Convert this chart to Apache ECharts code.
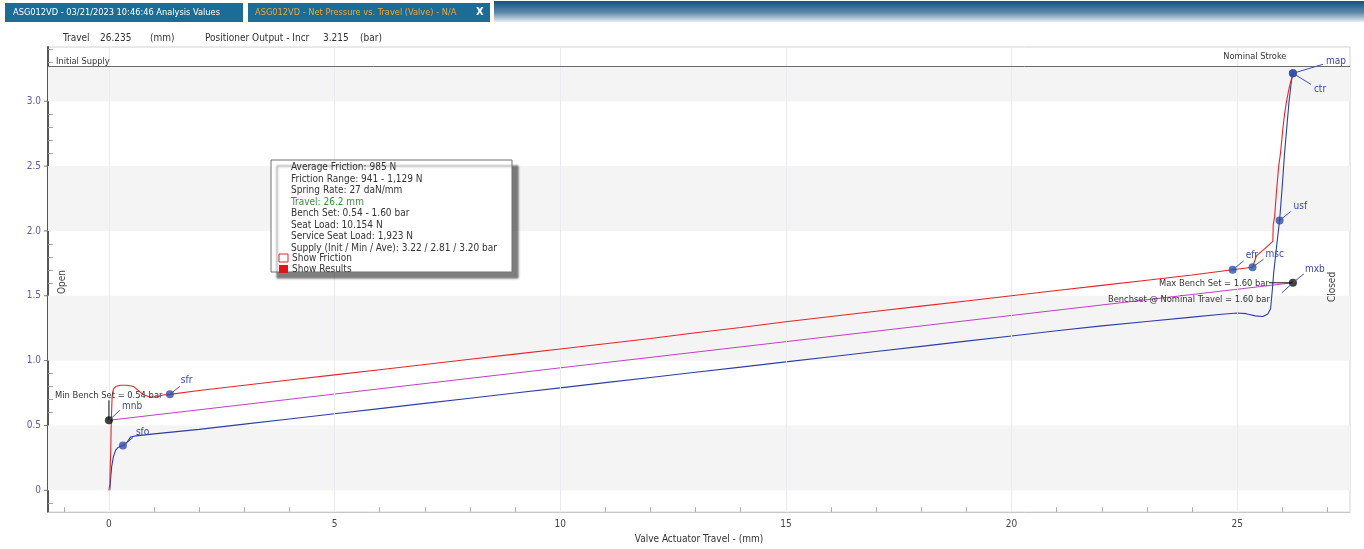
<!DOCTYPE html>
<html>
<head>
<meta charset="utf-8">
<script src="https://cdn.jsdelivr.net/npm/echarts@6/dist/echarts.min.js"></script>
<style>
  html, body { margin: 0; padding: 0; background: #ffffff; }
  #chart { width: 1364px; height: 549px; }
</style>
</head>
<body>
<div id="chart"></div>
<script>
// ---- Data -------------------------------------------------------------
const xTickLabels = [0, 5, 10, 15, 20, 25];
const xMinorTicks = [-1, 1, 2, 3, 4, 6, 7, 8, 9, 11, 12, 13, 14, 16, 17, 18, 19, 21, 22, 23, 24, 26, 27];
const yTickLabels = [0, 0.5, 1.0, 1.5, 2.0, 2.5, 3.0];
const yMinorTicks = [-0.1, 0.1, 0.2, 0.3, 0.4, 0.6, 0.7, 0.8, 0.9, 1.1, 1.2, 1.3, 1.4, 1.6, 1.7, 1.8, 1.9, 2.1, 2.2, 2.3, 2.4, 2.6, 2.7, 2.8, 2.9, 3.1, 3.2, 3.3, 3.4];

// Net pressure (bar) vs. travel (mm), stroking towards closed
const pressureUp = [
  [0, 0], [0.02, 0.05], [0.03, 0.2], [0.04, 0.3], [0.05, 0.5], [0.07, 0.72], [0.1, 0.78],
  [0.15, 0.8], [0.25, 0.81], [0.4, 0.81], [0.55, 0.8], [0.65, 0.77], [0.75, 0.74], [0.9, 0.72],
  [1.05, 0.72], [1.2, 0.735], [1.35, 0.74], [2, 0.77], [3, 0.81], [4, 0.85], [5, 0.89],
  [6, 0.93], [7, 0.97], [8, 1.01], [9, 1.05], [10, 1.09], [11, 1.13], [12, 1.17], [13, 1.215],
  [14, 1.255], [15, 1.30], [16, 1.34], [17, 1.38], [18, 1.42], [19, 1.46], [20, 1.50],
  [21, 1.54], [22, 1.58], [23, 1.62], [24, 1.66], [24.9, 1.70], [25.34, 1.72], [25.38, 1.76],
  [25.43, 1.81], [25.6, 1.86], [25.79, 1.92], [25.8, 2.05], [25.83, 2.11], [25.87, 2.3],
  [25.92, 2.5], [25.96, 2.6], [26.01, 2.78], [26.05, 2.9], [26.1, 3.01], [26.15, 3.1], [26.235, 3.215]
];
// Net pressure (bar) vs. travel (mm), stroking towards open
const pressureDown = [
  [0.02, 0], [0.04, 0.1], [0.06, 0.18], [0.1, 0.26], [0.15, 0.31], [0.2, 0.33], [0.31, 0.345],
  [0.4, 0.37], [0.48, 0.41], [0.6, 0.42], [1, 0.435], [2, 0.47], [3, 0.51], [4, 0.55], [5, 0.59],
  [6, 0.63], [7, 0.67], [8, 0.71], [9, 0.75], [10, 0.79], [11, 0.83], [12, 0.87], [13, 0.91],
  [14, 0.95], [15, 0.99], [16, 1.03], [17, 1.07], [18, 1.11], [19, 1.15], [20, 1.19], [21, 1.23],
  [22, 1.268], [23, 1.302], [24, 1.335], [24.6, 1.355], [25.0, 1.367], [25.2, 1.362], [25.4, 1.345],
  [25.57, 1.34], [25.68, 1.36], [25.74, 1.40], [25.78, 1.55], [25.81, 1.68], [25.88, 1.9],
  [25.94, 2.08], [26.0, 2.35], [26.05, 2.6], [26.1, 2.8], [26.15, 3.0], [26.2, 3.15], [26.235, 3.215]
];
// Bench set line between min and max bench set
const benchSet = [[0, 0.54], [26.235, 1.60]];

// Analysis points
const analysisNames = ['sfo', 'sfr', 'efr', 'msc', 'usf', 'map', 'ctr'];
const analysisValues = [[0.31, 0.345], [1.35, 0.74], [24.9, 1.70], [25.34, 1.72], [25.94, 2.08], [26.235, 3.215], [26.235, 3.215]];
const benchNames = ['mnb', 'mxb'];
const benchValues = [[0, 0.54], [26.235, 1.60]];

const initialSupply = 3.265;
const nominalStroke = 26.235;
const bandRanges = [[0, 0.5], [1.0, 1.5], [2.0, 2.5], [3.0, 3.265]];

const tabTitles = ['ASG012VD - 03/21/2023 10:46:46 Analysis Values', 'ASG012VD - Net Pressure vs. Travel (Valve) - N/A'];
const readoutLabels = ['Travel', '26.235', '(mm)', 'Positioner Output - Incr', '3.215', '(bar)'];
const summaryLines = [
  'Average Friction: 985 N',
  'Friction Range: 941 - 1,129 N',
  'Spring Rate: 27 daN/mm',
  'Travel: 26.2 mm',
  'Bench Set: 0.54 - 1.60 bar',
  'Seat Load: 10.154 N',
  'Service Seat Load: 1,923 N',
  'Supply (Init / Min / Ave): 3.22 / 2.81 / 3.20 bar'
];
const toggleLabels = ['Show Friction', 'Show Results'];

// ---- Styling ----------------------------------------------------------
const FONT = "'DejaVu Sans Condensed','Liberation Sans',Arial,sans-serif";
const RED = '#e8242a';
const BLUE = '#2c3ea6';
const MAGENTA = '#c040c4';
const DOT_BLUE = '#2f4ea8';
const LABEL_BLUE = '#3848a8';

// pixel offsets for point labels: leader end and text anchor, relative to the point
const pointLabelLayout = {
  sfo: { lead: [10, -8], text: [13, -13] },
  sfr: { lead: [10, -8], text: [11, -14] },
  mnb: { lead: [11, -10], text: [13, -14] },
  efr: { lead: [11, -9], text: [13, -14] },
  msc: { lead: [11, -8], text: [13, -13] },
  usf: { lead: [11, -9], text: [14, -14] },
  mxb: { lead: [11, -9], text: [12, -13] },
  map: { lead: [30, -9], text: [33, -12] },
  ctr: { lead: [18, 11], text: [21, 16] }
};

const chart = echarts.init(document.getElementById('chart'), null, { renderer: 'canvas' });

const option = {
  animation: false,
  textStyle: { fontFamily: FONT },
  grid: { left: 48, top: 47, right: 14, bottom: 34, show: true, borderColor: '#d2d2d2', borderWidth: 1, backgroundColor: '#ffffff' },
  xAxis: {
    type: 'value', min: -1.35, max: 27.5,
    name: 'Valve Actuator Travel - (mm)', nameLocation: 'middle', nameGap: 16,
    nameTextStyle: { color: '#333', fontSize: 10, fontFamily: FONT },
    axisLine: { show: true, onZero: false, lineStyle: { color: '#c8c8c8' } },
    axisTick: { show: true, inside: true, length: 5, customValues: xMinorTicks, lineStyle: { color: '#b0b0b0' } },
    axisLabel: { customValues: xTickLabels, color: '#444', fontSize: 10, margin: 7, fontFamily: FONT },
    splitLine: { show: false }
  },
  yAxis: {
    type: 'value', min: -0.168, max: 3.418,
    axisLine: { show: true, onZero: false, lineStyle: { color: '#555', width: 2 } },
    axisTick: { show: true, inside: true, length: 5, customValues: yMinorTicks, lineStyle: { color: '#a0a0a0' } },
    axisLabel: { customValues: yTickLabels, color: '#5a5aa8', fontSize: 10, margin: 7, fontFamily: FONT,
      formatter: v => (v === 0 ? '0' : v.toFixed(1)) },
    splitLine: { show: false }
  },
  series: [
    {
      name: 'background', type: 'line', data: benchSet, z: 0, silent: true,
      showSymbol: false, lineStyle: { width: 0, opacity: 0 },
      markArea: {
        silent: true,
        itemStyle: { color: '#f4f4f4' },
        data: bandRanges.map(r => [{ yAxis: r[0] }, { yAxis: r[1] }])
      },
      markLine: {
        silent: true, symbol: 'none', label: { show: false },
        data: xTickLabels.map(v => ({ xAxis: v, lineStyle: { color: '#ebebef', width: 1, type: 'solid' } }))
          .concat([{ yAxis: initialSupply, lineStyle: { color: '#6a6a6a', width: 1, type: 'solid' } }])
      }
    },
    {
      name: 'Bench Set', type: 'line', data: benchSet, z: 3,
      showSymbol: false, lineStyle: { color: MAGENTA, width: 1 }
    },
    {
      name: 'Open', type: 'line', data: pressureDown, z: 4,
      showSymbol: false, lineStyle: { color: BLUE, width: 1.1 }
    },
    {
      name: 'Close', type: 'line', data: pressureUp, z: 5,
      showSymbol: false, lineStyle: { color: RED, width: 1.1 }
    },
    {
      name: 'Analysis', type: 'scatter', z: 6, symbolSize: 8,
      itemStyle: { color: DOT_BLUE },
      data: analysisValues.map((v, i) => ({ name: analysisNames[i], value: v }))
    },
    {
      name: 'Bench', type: 'scatter', z: 6, symbolSize: 8,
      itemStyle: { color: '#111' },
      data: benchValues.map((v, i) => ({ name: benchNames[i], value: v }))
    }
  ]
};

chart.setOption(option);

// ---- Annotations placed through the chart's own coordinate system -----
function px(pt) { return chart.convertToPixel({ xAxisIndex: 0, yAxisIndex: 0 }, pt); }

const g = [];
function text(x, y, str, opts, size) {
  g.push({
    type: 'text', x, y, z: 100, silent: true,
    style: Object.assign({ text: str, fill: '#333', font: (size || 10) + 'px ' + FONT, textVerticalAlign: 'middle', textAlign: 'left' }, opts || {})
  });
}
function line(x1, y1, x2, y2, color, w) {
  g.push({ type: 'line', z: 99, silent: true, shape: { x1, y1, x2, y2 }, style: { stroke: color, lineWidth: w || 1 } });
}

// tab strip
g.push({ type: 'rect', z: 90, shape: { x: 5, y: 3, width: 238, height: 19 }, style: { fill: '#1b6d98' } });
g.push({ type: 'rect', z: 90, shape: { x: 248, y: 3, width: 242, height: 19 }, style: { fill: '#1b6d98' } });
g.push({
  type: 'rect', z: 90, shape: { x: 494, y: 1, width: 870, height: 21 },
  style: { fill: new echarts.graphic.LinearGradient(0, 0, 0, 1, [
    { offset: 0, color: '#16527c' }, { offset: 0.55, color: '#5d88a8' }, { offset: 1, color: '#e6edf3' }
  ]) }
});
text(13, 13, tabTitles[0], { fill: '#ffffff' }, 9.2);
text(255, 13, tabTitles[1], { fill: '#f2a436' }, 9.2);
text(476, 12, 'X', { fill: '#ffffff', font: 'bold 11px ' + FONT });

// readout row
const readoutX = [63, 100, 150, 205, 323, 360];
readoutLabels.forEach((s, i) => text(readoutX[i], 38, s, { fill: '#333' }, 10));

// outward ticks at the labelled values
yTickLabels.forEach(v => { const p = px([-1.35, v]); line(p[0] - 4, p[1], p[0], p[1], '#777', 1); });

// supply / stroke labels
const supplyPx = px([0, initialSupply]);
const strokePx = px([nominalStroke, initialSupply]);
text(56, supplyPx[1] - 5, 'Initial Supply', { fill: '#333' }, 9.2);
text(strokePx[0] - 38, supplyPx[1] - 10, 'Nominal Stroke', { fill: '#333', textAlign: 'center' }, 9.2);

// open / closed side labels
g.push({ type: 'text', x: 62, y: 282, rotation: Math.PI / 2, z: 100, silent: true,
  style: { text: 'Open', fill: '#444', font: '10px ' + FONT, textAlign: 'center', textVerticalAlign: 'middle' } });
g.push({ type: 'text', x: 1332, y: 287, rotation: Math.PI / 2, z: 100, silent: true,
  style: { text: 'Closed', fill: '#444', font: '10px ' + FONT, textAlign: 'center', textVerticalAlign: 'middle' } });

// point labels with leaders
const allNames = analysisNames.concat(benchNames);
const allValues = analysisValues.concat(benchValues);
allNames.forEach((n, i) => {
  const p = px(allValues[i]);
  const L = pointLabelLayout[n];
  line(p[0], p[1], p[0] + L.lead[0], p[1] + L.lead[1], '#3a52b0', 1);
  text(p[0] + L.text[0], p[1] + L.text[1], n, { fill: LABEL_BLUE }, 10);
});
// extra leader tail through the max bench point
const mxbPx = px(benchValues[1]);
line(mxbPx[0], mxbPx[1], mxbPx[0] - 11, mxbPx[1] + 10, '#3a52b0', 1);

// bench set callouts
const mnbPx = px(benchValues[0]);
line(mnbPx[0], mnbPx[1], mnbPx[0], mnbPx[1] - 20, '#111', 1);
text(55, mnbPx[1] - 25, 'Min Bench Set = ' + benchValues[0][1].toFixed(2) + ' bar', { fill: '#333' }, 9.3);
line(mxbPx[0] - 24, mxbPx[1], mxbPx[0], mxbPx[1], '#111', 1);
text(mxbPx[0] - 24, mxbPx[1] + 1, 'Max Bench Set = ' + benchValues[1][1].toFixed(2) + ' bar', { fill: '#333', textAlign: 'right' }, 9.3);
text(mxbPx[0] - 23, mxbPx[1] + 17, 'Benchset @ Nominal Travel = ' + benchSet[1][1].toFixed(2) + ' bar', { fill: '#333', textAlign: 'right' }, 9.3);

// summary box
g.push({ type: 'rect', z: 95, shape: { x: 271, y: 160, width: 241, height: 112 },
  style: { fill: '#ffffff', stroke: '#6f6f6f', lineWidth: 1, shadowColor: 'rgba(0,0,0,0.5)', shadowOffsetX: 6, shadowOffsetY: 6, shadowBlur: 2 } });
summaryLines.forEach((s, i) => {
  text(291, 167.5 + i * 11.5, s, { fill: i === 3 ? '#3a8f3a' : '#333' }, 10);
});
g.push({ type: 'rect', z: 100, shape: { x: 279, y: 254, width: 9, height: 8 }, style: { fill: '#fff', stroke: '#e0262b', lineWidth: 1 } });
g.push({ type: 'rect', z: 100, shape: { x: 279, y: 265, width: 9, height: 8 }, style: { fill: '#e8101a' } });
text(292, 258.5, toggleLabels[0], { fill: '#333' }, 10);
text(292, 269.5, toggleLabels[1], { fill: '#333' }, 10);

chart.setOption({ graphic: { elements: g } });
</script>
</body>
</html>
